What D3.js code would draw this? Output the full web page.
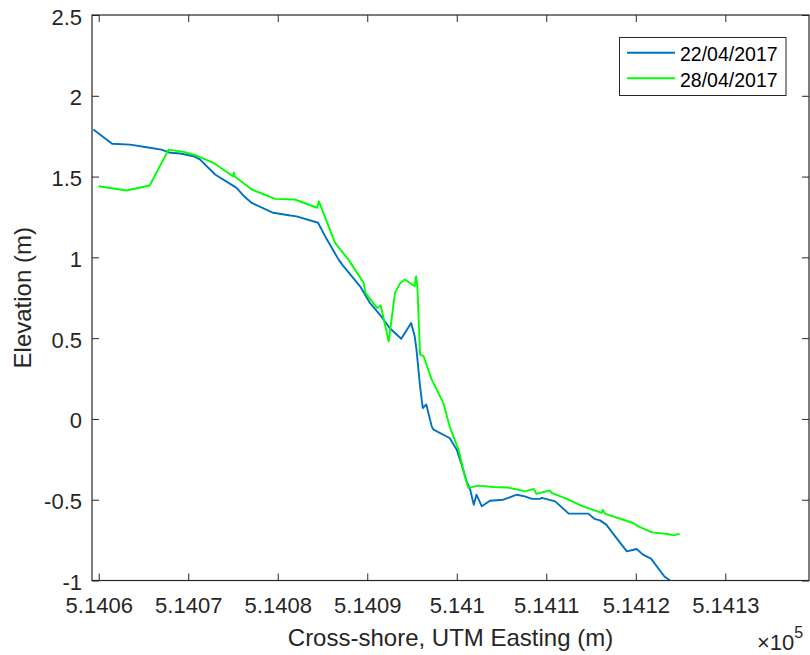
<!DOCTYPE html>
<html>
<head>
<meta charset="utf-8">
<script src="https://cdn.jsdelivr.net/npm/d3@7"></script>
<style>
  html, body { margin: 0; padding: 0; background: #fff; }
  svg { display: block; font-family: "Liberation Sans", Arial, Helvetica, sans-serif; }
</style>
</head>
<body>
<svg id="chart" width="810" height="655"></svg>
<script>
// Beach profile survey: UTM easting (m) and elevation (m)
const eastingA = [514059.4, 514061.5, 514063.5, 514065.7, 514067.0, 514068.0, 514069.1, 514070.6, 514071.3,
  514073.0, 514075.4, 514076.3, 514077.1, 514079.5, 514081.4, 514082.1, 514084.5, 514085.5, 514086.8,
  514087.2, 514089.2, 514090.3, 514091.4, 514092.5, 514093.8, 514094.9, 514095.3, 514095.5, 514095.9,
  514096.2, 514096.6, 514097.2, 514097.4, 514099.2, 514100.0, 514100.6, 514101.1, 514101.5, 514101.9,
  514102.2, 514102.8, 514103.7, 514105.2, 514106.7, 514107.6, 514108.4, 514109.3, 514109.5, 514111.0,
  514112.5, 514114.7, 514115.4, 514116.0, 514116.7, 514117.7, 514119.0, 514120.1, 514120.8, 514121.7,
  514123.2, 514123.8];
const elevA = [1.791, 1.703, 1.698, 1.678, 1.667, 1.647, 1.643, 1.626, 1.606,
  1.513, 1.430, 1.375, 1.337, 1.276, 1.259, 1.254, 1.214, 1.110, 0.986,
  0.955, 0.821, 0.718, 0.646, 0.563, 0.496, 0.594, 0.511, 0.429, 0.202,
  0.068, 0.089, -0.046, -0.066, -0.118, -0.190, -0.293, -0.386, -0.438, -0.531,
  -0.469, -0.541, -0.506, -0.500, -0.469, -0.479, -0.495, -0.495, -0.489, -0.510,
  -0.586, -0.586, -0.619, -0.628, -0.654, -0.727, -0.820, -0.805, -0.840, -0.865,
  -0.975, -0.999];

const eastingB = [514060.0, 514063.1, 514065.7, 514067.8, 514069.5, 514070.8, 514072.8, 514075.0, 514075.1,
  514075.2, 514077.1, 514079.7, 514081.9, 514084.4, 514084.6, 514086.4, 514087.9, 514089.6, 514089.8,
  514091.1, 514091.5, 514092.4, 514093.1, 514093.7, 514094.2, 514095.0, 514095.3, 514095.45, 514095.6,
  514095.9, 514096.3, 514097.2, 514098.5, 514099.2, 514100.2, 514100.9, 514101.3, 514102.4, 514104.1,
  514105.6, 514106.9, 514107.6, 514108.6, 514108.9, 514110.4, 514110.6, 514112.3, 514114.1, 514116.2,
  514116.3, 514116.6, 514119.7, 514120.3, 514121.8, 514123.6, 514124.2, 514124.9];
const elevB = [1.440, 1.414, 1.445, 1.667, 1.653, 1.632, 1.585, 1.502, 1.525,
  1.500, 1.420, 1.362, 1.358, 1.307, 1.347, 1.090, 0.986, 0.842, 0.780,
  0.687, 0.702, 0.480, 0.780, 0.842, 0.863, 0.832, 0.821, 0.883, 0.821,
  0.398, 0.388, 0.243, 0.099, -0.046, -0.190, -0.355, -0.427, -0.413, -0.421,
  -0.424, -0.438, -0.448, -0.433, -0.464, -0.442, -0.458, -0.495, -0.541, -0.582,
  -0.562, -0.588, -0.644, -0.665, -0.702, -0.712, -0.721, -0.710];

const seriesNames = ["22/04/2017", "28/04/2017"];
const seriesColors = ["#0072BD", "#00FF00"];
const xTickValues = [514060, 514070, 514080, 514090, 514100, 514110, 514120, 514130];
const yTickValues = [-1, -0.5, 0, 0.5, 1, 1.5, 2, 2.5];
const xDomain = [514059.25, 514139.35];
const yDomain = [-1, 2.5];

const svg = d3.select("#chart");
const ink = "#262626";
const L = 92, R = 809, T = 15, B = 580.5;
const tickLen = 7;

const x = d3.scaleLinear().domain(xDomain).range([L, R]);
const y = d3.scaleLinear().domain(yDomain).range([B, T]);

svg.append("defs").append("clipPath").attr("id", "plotClip")
  .append("rect").attr("x", L).attr("y", T).attr("width", R - L).attr("height", B - T);

// series lines
const series = [
  eastingA.map((e, i) => [e, elevA[i]]),
  eastingB.map((e, i) => [e, elevB[i]])
];
const line = d3.line().x(d => x(d[0])).y(d => y(d[1]));
const plot = svg.append("g").attr("clip-path", "url(#plotClip)");
series.forEach((s, i) => {
  plot.append("path").datum(s)
    .attr("d", line)
    .attr("fill", "none")
    .attr("stroke", seriesColors[i])
    .attr("stroke-width", 1.9)
    .attr("stroke-linejoin", "round");
});

// axes with inward ticks on all four sides
const xLabelFmt = v => String(+(v / 1e5).toFixed(4));
const axBottom = svg.append("g").attr("transform", `translate(0,${B})`)
  .call(d3.axisBottom(x).tickValues(xTickValues).tickSizeInner(-tickLen).tickSizeOuter(0).tickFormat(xLabelFmt));
const axTop = svg.append("g").attr("transform", `translate(0,${T})`)
  .call(d3.axisTop(x).tickValues(xTickValues).tickSizeInner(-tickLen).tickSizeOuter(0).tickFormat(""));
const axLeft = svg.append("g").attr("transform", `translate(${L},0)`)
  .call(d3.axisLeft(y).tickValues(yTickValues).tickSizeInner(-tickLen).tickSizeOuter(0).tickFormat(d => String(d)));
const axRight = svg.append("g").attr("transform", `translate(${R},0)`)
  .call(d3.axisRight(y).tickValues(yTickValues).tickSizeInner(-tickLen).tickSizeOuter(0).tickFormat(""));

[axBottom, axTop, axLeft, axRight].forEach(g => {
  g.select(".domain").remove();
  g.selectAll(".tick line").attr("stroke", ink).attr("stroke-width", 1);
  g.selectAll("text").attr("fill", ink).attr("font-size", 22).attr("font-family", null);
});
axBottom.selectAll(".tick text").attr("y", 0).attr("dy", null).attr("transform", "translate(0,32.5)");
axLeft.selectAll(".tick text").attr("x", -10).attr("dy", null).attr("transform", "translate(0,9)");

// box
svg.append("rect").attr("x", L).attr("y", T).attr("width", R - L).attr("height", B - T)
  .attr("fill", "none").attr("stroke", ink).attr("stroke-width", 1.2);

// axis labels
svg.append("text").attr("x", (L + R) / 2).attr("y", 646).attr("text-anchor", "middle")
  .attr("font-size", 24).attr("fill", ink).text("Cross-shore, UTM Easting (m)");
svg.append("text").attr("transform", `translate(31,${(T + B) / 2}) rotate(-90)`).attr("text-anchor", "middle")
  .attr("font-size", 24).attr("fill", ink).text("Elevation (m)");

// exponent marker
const expo = svg.append("text").attr("x", 757).attr("y", 650).attr("font-size", 22).attr("fill", ink);
expo.append("tspan").text("\u00D710");
expo.append("tspan").attr("font-size", 16).attr("dy", -12).text("5");

// legend
const lg = svg.append("g");
lg.append("rect").attr("x", 619.5).attr("y", 37.5).attr("width", 166.5).attr("height", 58)
  .attr("fill", "#fff").attr("stroke", ink).attr("stroke-width", 1);
seriesNames.forEach((name, i) => {
  const ly = 52.7 + i * 25.6;
  lg.append("line").attr("x1", 627).attr("x2", 675).attr("y1", ly).attr("y2", ly)
    .attr("stroke", seriesColors[i]).attr("stroke-width", 2);
  lg.append("text").attr("x", 680).attr("y", ly + 8.5).attr("font-size", 19.5).attr("fill", "#000").text(name);
});
</script>
</body>
</html>
